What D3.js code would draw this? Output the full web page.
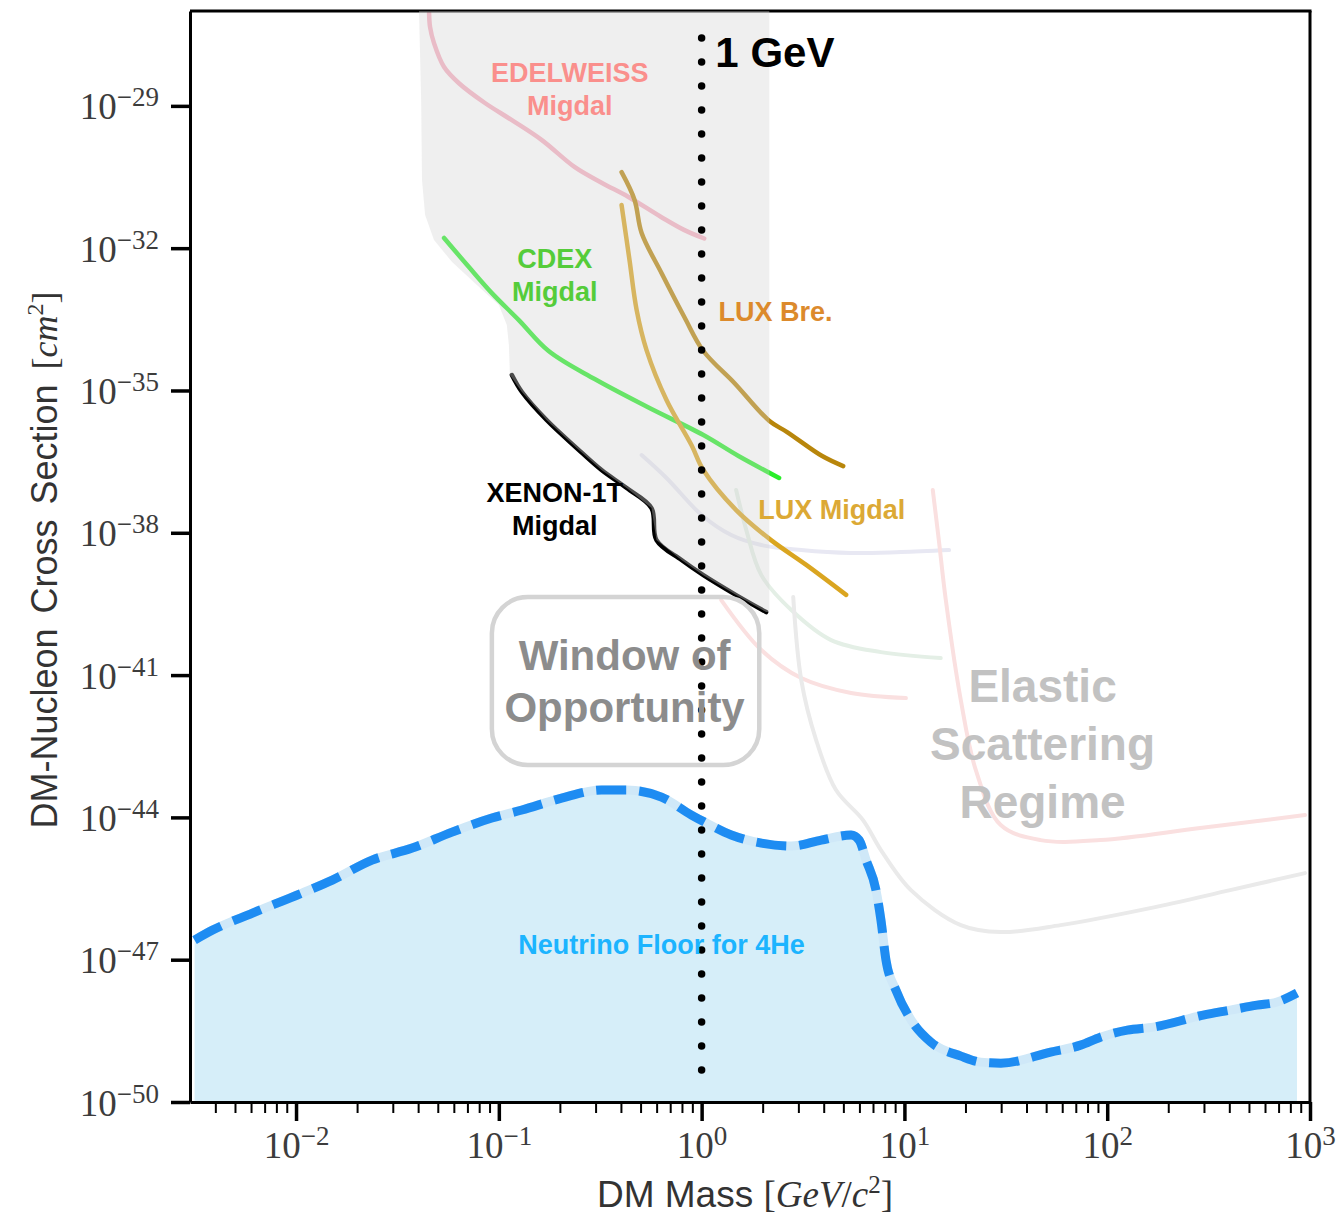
<!DOCTYPE html>
<html>
<head>
<meta charset="utf-8">
<script src="https://cdn.jsdelivr.net/npm/d3@7"></script>
<style>
body { margin: 0; background: #fff; }
</style>
</head>
<body>
<script>
// Värden: [massa GeV/c^2, tvärsnitt cm^2]
var edelweiss = [[0.0453, 9.1e-28], [0.0458, 4.6e-28], [0.0479, 2.1e-28], [0.0537, 6.6e-29], [0.0636, 3.0e-29],
  [0.0854, 1.15e-29], [0.116, 5.0e-30], [0.163, 1.9e-30], [0.237, 5.1e-31], [0.321, 2.4e-31],
  [0.436, 1.2e-31], [0.634, 4.5e-32], [0.823, 2.4e-32], [1.03, 1.6e-32]];
var cdex = [[0.0537, 1.64e-32], [0.0712, 4.0e-33], [0.0924, 1.13e-33], [0.1255, 3.05e-34], [0.176, 6.8e-35],
  [0.297, 1.74e-35], [0.541, 4.48e-36], [1.02, 1.15e-36], [1.52, 4.15e-37], [2.41, 1.43e-37]];
var xenon = [[0.116, 2.12e-35], [0.130, 9.27e-36], [0.172, 2.38e-36], [0.242, 6.11e-37], [0.321, 2.1e-37],
  [0.427, 8.77e-38], [0.566, 3.32e-38], [0.599, 7.03e-39], [0.796, 2.66e-39], [1.02, 1.28e-39],
  [1.48, 4.86e-40], [2.08, 2.13e-40]];
var luxBre = [[0.403, 4.0e-31], [0.467, 1.04e-31], [0.506, 2.09e-32], [0.634, 3.0e-33], [0.823, 3.5e-34],
  [1.02, 6.8e-35], [1.45, 1.44e-35], [2.16, 2.27e-36], [2.64, 1.33e-36], [3.93, 4.15e-37], [4.99, 2.55e-37]];
var luxMigdal = [[0.403, 8.1e-32], [0.441, 5.6e-33], [0.478, 5.0e-34], [0.535, 7.1e-35], [0.671, 6.3e-36],
  [0.891, 7.1e-37], [1.02, 2.1e-37], [1.48, 3.0e-38], [2.2, 7.0e-39], [3.28, 2.1e-39], [5.16, 4.9e-40]];

// Grå Migdal-region: vänsterkant, sedan XENON-kurvan, sedan högerkant
var regionLeft = [[0.0404, 1e-27], [0.0414, 1.33e-29], [0.0418, 2.74e-31], [0.0433, 5.0e-32], [0.0479, 1.49e-32],
  [0.0588, 5.1e-33], [0.078, 1.67e-33], [0.100, 6.32e-34], [0.1095, 2.4e-34], [0.1121, 9.07e-35], [0.1134, 2.12e-35]];
var regionRight = [[2.156, 2.13e-40], [2.156, 1e-27]];

// Bleka elastiska gränser i bakgrunden
var faintLavender = [[0.506, 4.35e-37], [0.671, 1.43e-37], [1.0, 2.37e-38], [1.40, 8.95e-39], [1.97, 5.51e-39],
  [3.1, 4.32e-39], [5.46, 3.74e-39], [9.61, 3.93e-39], [16.6, 4.32e-39]];
var faintGreen = [[1.48, 7.96e-38], [1.661, 1.14e-38], [1.97, 1.28e-39], [2.77, 2.35e-40], [4.35, 5.47e-41],
  [7.66, 3.05e-41], [15.1, 2.28e-41]];
var faintPinkShort = [[1.25, 3.81e-40], [1.97, 3.37e-41], [3.1, 8.65e-42], [5.46, 4.18e-42], [10.17, 3.27e-42]];
var faintGray = [[2.83, 4.41e-40], [3.1, 7.85e-42], [3.67, 4.27e-43], [4.6, 3.77e-44], [6.25, 8.78e-45],
  [7.66, 2.05e-45], [10.77, 2.93e-46], [18.97, 5.36e-47], [29.85, 3.82e-47], [58.9, 5.36e-47],
  [163, 1.22e-46], [404, 2.93e-46], [945, 6.7e-46]];
var faintPinkLong = [[13.8, 7.96e-38], [14.78, 7.03e-39], [16.0, 3.81e-40], [18.97, 2.97e-42], [22.5, 9.93e-44],
  [29.85, 6.89e-45], [46.9, 3.32e-45], [92.6, 3.32e-45], [287.5, 5.96e-45], [945, 1.12e-44]];

// Neutrinogolvet för 4He
var neutrinoFloor = [[0.00316, 2.59e-47], [0.00388, 4.21e-47], [0.0061, 9.6e-47], [0.0107, 2.54e-46], [0.0151, 4.77e-46],
  [0.0237, 1.26e-45], [0.0374, 2.25e-45], [0.0588, 4.9e-45], [0.0924, 9.68e-45], [0.130, 1.43e-44],
  [0.204, 2.55e-44], [0.321, 3.77e-44], [0.427, 3.77e-44], [0.634, 2.68e-44], [0.891, 1.12e-44],
  [1.056, 7.59e-45], [1.40, 4.24e-45], [1.97, 2.87e-45], [2.77, 2.48e-45], [3.89, 3.32e-45],
  [5.46, 4.24e-45], [5.98, 3.32e-45], [6.47, 1.26e-45], [7.24, 2.93e-46], [7.66, 6.84e-47],
  [8.11, 9.8e-48], [9.08, 2.28e-48], [10.8, 5.33e-49], [13.5, 1.83e-49], [19.0, 9.27e-50],
  [23.8, 6.93e-50], [29.9, 6.6e-50], [52.6, 1.13e-49], [73.9, 1.58e-49], [92.6, 2.33e-49],
  [125.8, 3.28e-49], [168.9, 3.79e-49], [297.6, 6.79e-49], [404, 8.65e-49], [548.6, 1.10e-48],
  [688, 1.28e-48], [863, 1.98e-48]];

// 1 GeV-linjen
var oneGeV = [[1, 2.7e-28], [1, 4.3e-50]];

// Axlar
var xTickExponents = [-2, -1, 0, 1, 2, 3];
var yTickExponents = [-29, -32, -35, -38, -41, -44, -47, -50];

var sans = "'Liberation Sans', Arial, Helvetica, sans-serif";
var serif = "'Liberation Serif', 'Times New Roman', serif";

var svg = d3.select("body").append("svg")
  .attr("width", 1340)
  .attr("height", 1217);

var x = d3.scaleLog().domain([0.003, 1000]).range([190, 1310]);
var y = d3.scaleLog().domain([1e-50, 1e-27]).range([1102, 11]);

svg.append("clipPath").attr("id", "plot")
  .append("rect").attr("x", 190).attr("y", 11).attr("width", 1120).attr("height", 1091);

var plot = svg.append("g").attr("clip-path", "url(#plot)");

var line = d3.line().x(function(d) { return x(d[0]); }).y(function(d) { return y(d[1]); });
var smooth = d3.line().x(function(d) { return x(d[0]); }).y(function(d) { return y(d[1]); })
  .curve(d3.curveCatmullRom.alpha(0.5));
var floorLine = d3.line().x(function(d) { return x(d[0]); }).y(function(d) { return y(d[1]); })
  .curve(d3.curveMonotoneX);

// Ljusblå fyllnad under neutrinogolvet
var area = d3.area()
  .x(function(d) { return x(d[0]); })
  .y0(y(1e-50))
  .y1(function(d) { return y(d[1]); })
  .curve(d3.curveMonotoneX);
plot.append("path").datum(neutrinoFloor).attr("d", area).attr("fill", "#d6eef9");

// Bleka bakgrundskurvor
[[faintLavender, "#e8e8f3"], [faintGreen, "#e4efe6"], [faintPinkShort, "#fae0e0"],
 [faintGray, "#eaeaea"], [faintPinkLong, "#fae0e0"]].forEach(function(c) {
  plot.append("path").datum(c[0]).attr("d", smooth)
    .attr("fill", "none").attr("stroke", c[1]).attr("stroke-width", 4).attr("stroke-linecap", "round");
});

// Axlar
var xMinor = [];
for (var k = -3; k <= 2; k++) {
  for (var m = 2; m <= 9; m++) {
    var v = m * Math.pow(10, k);
    if (v > 0.003 && v < 1000) xMinor.push(v);
  }
}

var xAxisMinor = svg.append("g").attr("transform", "translate(0,1102)")
  .call(d3.axisBottom(x).tickValues(xMinor).tickSize(11).tickSizeOuter(0).tickFormat(""));
xAxisMinor.select(".domain").remove();
xAxisMinor.selectAll(".tick line").attr("stroke", "#000").attr("stroke-width", 2);

var xAxis = svg.append("g").attr("transform", "translate(0,1102)")
  .call(d3.axisBottom(x).tickValues(xTickExponents.map(function(e) { return Math.pow(10, e); }))
    .tickSize(19).tickSizeOuter(0).tickFormat(""));
xAxis.select(".domain").attr("stroke", "#000").attr("stroke-width", 3);
xAxis.selectAll(".tick line").attr("stroke", "#000").attr("stroke-width", 3.5);

var yAxis = svg.append("g").attr("transform", "translate(190,0)")
  .call(d3.axisLeft(y).tickValues(yTickExponents.map(function(e) { return Math.pow(10, e); }))
    .tickSize(19).tickSizeOuter(0).tickFormat(""));
yAxis.select(".domain").attr("stroke", "#000").attr("stroke-width", 3);
yAxis.selectAll(".tick line").attr("stroke", "#000").attr("stroke-width", 3.5);

function powerLabel(sel, exp) {
  sel.append("tspan").attr("font-size", 37).text("10");
  sel.append("tspan").attr("font-size", 27).attr("dy", -13).text(String(exp).replace("-", "\u2212"));
}

xAxis.selectAll(".tick").each(function(d, i) {
  var t = d3.select(this).append("text")
    .attr("x", 0).attr("y", 56)
    .attr("fill", "#3c3c3c").attr("font-family", serif)
    .attr("text-anchor", "middle");
  powerLabel(t, xTickExponents[i]);
});

yAxis.selectAll(".tick").each(function(d, i) {
  var t = d3.select(this).append("text")
    .attr("x", -31).attr("y", 13)
    .attr("fill", "#3c3c3c").attr("font-family", serif)
    .attr("text-anchor", "end");
  powerLabel(t, yTickExponents[i]);
});

// Övre och högra ramen
svg.append("line").attr("x1", 190).attr("x2", 1311.5).attr("y1", 11).attr("y2", 11)
  .attr("stroke", "#000").attr("stroke-width", 3);
svg.append("line").attr("x1", 1310).attr("x2", 1310).attr("y1", 11).attr("y2", 1103.5)
  .attr("stroke", "#000").attr("stroke-width", 3);

// Axeltitlar
var xt = svg.append("text").attr("x", 745).attr("y", 1207)
  .attr("text-anchor", "middle").attr("fill", "#333").attr("font-size", 37).attr("font-family", sans);
xt.append("tspan").text("DM Mass ");
xt.append("tspan").attr("font-family", serif).text("[");
xt.append("tspan").attr("font-family", serif).attr("font-style", "italic").text("GeV");
xt.append("tspan").attr("font-family", serif).text("/");
xt.append("tspan").attr("font-family", serif).attr("font-style", "italic").text("c");
xt.append("tspan").attr("font-family", serif).attr("font-size", 25).attr("dy", -14).text("2");
xt.append("tspan").attr("font-family", serif).attr("dy", 14).text("]");

var yt = svg.append("text").attr("transform", "translate(57,560) rotate(-90)")
  .attr("text-anchor", "middle").attr("fill", "#333").attr("font-size", 36).attr("font-family", sans)
  .attr("word-spacing", 5);
yt.append("tspan").text("DM-Nucleon Cross Section ");
yt.append("tspan").attr("font-family", serif).text("[");
yt.append("tspan").attr("font-family", serif).attr("font-style", "italic").text("cm");
yt.append("tspan").attr("font-family", serif).attr("font-size", 24).attr("dy", -14).text("2");
yt.append("tspan").attr("font-family", serif).attr("dy", 14).text("]");

// Gränskurvorna
var curves = [
  [edelweiss, "#f6b0c0", 4.5],
  [cdex, "#2bee2b", 4.5],
  [luxBre, "#b8860b", 4.5],
  [luxMigdal, "#daa520", 4.5],
  [xenon, "#000000", 4.5]
];
curves.forEach(function(c) {
  plot.append("path").datum(c[0]).attr("d", smooth)
    .attr("fill", "none").attr("stroke", c[1]).attr("stroke-width", c[2])
    .attr("stroke-linecap", "round").attr("stroke-linejoin", "round");
});

// Grå halvgenomskinlig region ovanpå
var region = regionLeft.concat(xenon.slice(1), regionRight);
svg.append("path").datum(region).attr("d", line)
  .attr("fill", "#d2d2d2").attr("fill-opacity", 0.36);

// Neutrinogolvets streckade kant
plot.append("path").datum(neutrinoFloor).attr("d", floorLine)
  .attr("fill", "none").attr("stroke", "#cfe8f8").attr("stroke-width", 9);
plot.append("path").datum(neutrinoFloor).attr("d", floorLine)
  .attr("fill", "none").attr("stroke", "#1e8cf2").attr("stroke-width", 9)
  .attr("stroke-dasharray", "30 13");

// Prickad linje vid 1 GeV
svg.append("path").datum(oneGeV).attr("d", line)
  .attr("fill", "none").attr("stroke", "#000").attr("stroke-width", 7.5)
  .attr("stroke-linecap", "round").attr("stroke-dasharray", "0 24");

// Ruta runt "Window of Opportunity"
svg.append("rect")
  .attr("x", x(0.0924)).attr("y", y(4.41e-40))
  .attr("width", x(1.924) - x(0.0924)).attr("height", y(1.27e-43) - y(4.41e-40))
  .attr("rx", 36).attr("ry", 36)
  .attr("fill", "none").attr("stroke", "#d4d4d4").attr("stroke-width", 4.5);

function label(txt, m, s, color, size, anchor) {
  svg.append("text")
    .attr("x", x(m)).attr("y", y(s))
    .attr("fill", color).attr("font-size", size).attr("font-weight", "bold")
    .attr("font-family", sans).attr("text-anchor", anchor || "middle")
    .text(txt);
}

label("EDELWEISS", 0.2237, 3.18e-29, "#fa8f8c", 27);
label("Migdal", 0.2237, 6.41e-30, "#fa8f8c", 27);
label("CDEX", 0.1887, 3.82e-33, "#55cc3a", 27);
label("Migdal", 0.1887, 7.69e-34, "#55cc3a", 27);
label("LUX Bre.", 1.21, 2.91e-34, "#dc8a2c", 27, "start");
label("LUX Migdal", 1.903, 1.95e-38, "#dca935", 27, "start");
label("XENON-1T", 0.1887, 4.45e-38, "#000", 27);
label("Migdal", 0.1887, 8.95e-39, "#000", 27);
label("1 GeV", 1.169, 6.59e-29, "#000", 42, "start");
label("Window of", 0.417, 1.28e-41, "#8c8c8c", 42);
label("Opportunity", 0.417, 1.02e-42, "#8c8c8c", 42);
label("Elastic", 48, 2.7e-42, "#c2c2c2", 46);
label("Scattering", 48, 1.61e-43, "#c2c2c2", 46);
label("Regime", 48, 9.68e-45, "#c2c2c2", 46);
label("Neutrino Floor for 4He", 0.634, 1.31e-47, "#1cb4ff", 27);
</script>
</body>
</html>
